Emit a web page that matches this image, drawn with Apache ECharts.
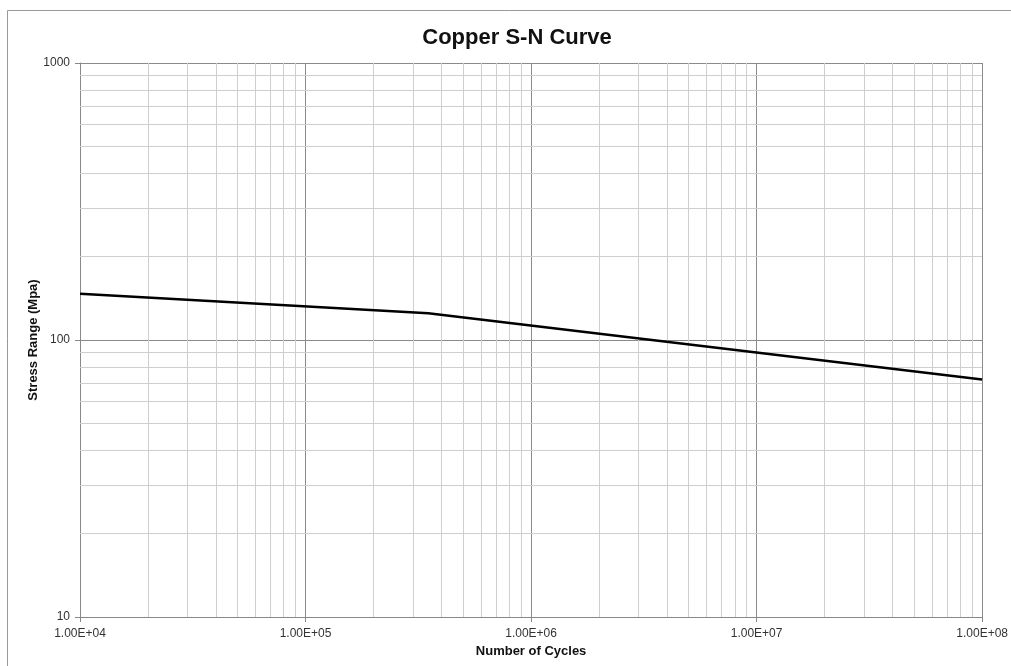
<!DOCTYPE html>
<html>
<head>
<meta charset="utf-8">
<script src="https://cdn.jsdelivr.net/npm/echarts@6/dist/echarts.min.js"></script>
<style>html,body{margin:0;padding:0;background:#fff;}#c{width:1011px;height:666px;}</style>
</head>
<body>
<div id="c"></div>
<script>
const cycles = [1e4, 3.5e5, 1e8];
const stress = [147, 125, 72];
const xMinorGrid = [2e4,3e4,4e4,5e4,6e4,7e4,8e4,9e4,2e5,3e5,4e5,5e5,6e5,7e5,8e5,9e5,2e6,3e6,4e6,5e6,6e6,7e6,8e6,9e6,2e7,3e7,4e7,5e7,6e7,7e7,8e7,9e7];
const yMinorGrid = [20,30,40,50,60,70,80,90,200,300,400,500,600,700,800,900];
const xTickLabels = {1e4:'1.00E+04',1e5:'1.00E+05',1e6:'1.00E+06',1e7:'1.00E+07',1e8:'1.00E+08'};
const yTickLabels = {10:'10',100:'100',1000:'1000'};

const chart = echarts.init(document.getElementById('c'));
const font = 'Liberation Sans, Arial, sans-serif';
const minorLines = xMinorGrid.map(v => ({xAxis: v})).concat(yMinorGrid.map(v => ({yAxis: v})));
chart.setOption({
  animation: false,
  backgroundColor: '#fff',
  title: {
    text: 'Copper S-N Curve', left: 512, top: 22, textAlign: 'center',
    textStyle: {fontFamily: font, fontWeight: 'bold', fontSize: 22, color: '#111'}
  },
  graphic: [{
    type: 'rect', z: -10,
    shape: {x: 7.5, y: 10.5, width: 1020, height: 680},
    style: {fill: 'none', stroke: '#999', lineWidth: 1}
  }],
  grid: {left: 80, right: 27, top: 63, bottom: 49, containLabel: false},
  xAxis: {
    type: 'log', logBase: 10, min: 1e4, max: 1e8,
    name: 'Number of Cycles', nameLocation: 'middle', nameGap: 28,
    nameTextStyle: {fontFamily: font, fontWeight: 'bold', fontSize: 13, color: '#111'},
    axisLine: {show: true, lineStyle: {color: '#888', width: 1}},
    axisTick: {show: true, length: 5, lineStyle: {color: '#888'}},
    axisLabel: {fontFamily: font, fontSize: 12, color: '#333', margin: 11,
      formatter: v => xTickLabels[Math.round(v)] || ''},
    splitLine: {show: true, lineStyle: {color: '#8a8a8a', width: 1}}
  },
  yAxis: {
    type: 'log', logBase: 10, min: 10, max: 1000,
    name: 'Stress Range (Mpa)', nameLocation: 'middle', nameGap: 40, nameRotate: 90,
    nameMoveOverlap: false,
    nameTextStyle: {fontFamily: font, fontWeight: 'bold', fontSize: 13, color: '#111'},
    axisLine: {show: true, lineStyle: {color: '#888', width: 1}},
    axisTick: {show: true, length: 5, lineStyle: {color: '#888'}},
    axisLabel: {fontFamily: font, fontSize: 12, color: '#333', margin: 10,
      formatter: v => yTickLabels[Math.round(v)] || ''},
    splitLine: {show: true, lineStyle: {color: '#8a8a8a', width: 1}}
  },
  series: [{
    type: 'line',
    data: cycles.map((c, i) => [c, stress[i]]),
    symbol: 'none',
    lineStyle: {color: '#000', width: 2.5},
    z: 5,
    markLine: {
      silent: true, symbol: 'none', z: 1,
      label: {show: false},
      lineStyle: {color: '#cfcfcf', width: 1, type: 'solid'},
      emphasis: {disabled: true},
      data: minorLines
    }
  }]
});
</script>
</body>
</html>
